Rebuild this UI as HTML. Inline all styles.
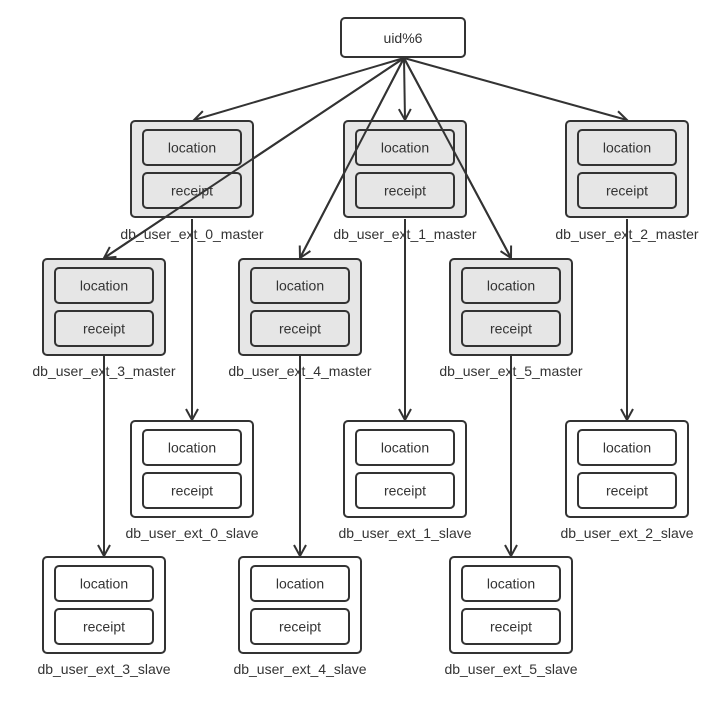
<!DOCTYPE html>
<html><head><meta charset="utf-8"><style>
html,body{margin:0;padding:0;background:#fff;}
svg{display:block;}
text{font-family:"Liberation Sans",sans-serif;font-size:14px;fill:#333;text-anchor:middle;dominant-baseline:central;}
</style></head><body>
<svg width="726" height="705" viewBox="0 0 726 705" xmlns="http://www.w3.org/2000/svg">
<defs>
<marker id="a" markerWidth="14" markerHeight="14" refX="12" refY="7" orient="auto" markerUnits="userSpaceOnUse">
<path d="M1,1 L12,7 L1,13" fill="none" stroke="#333" stroke-width="2"/>
</marker>
<g id="db">
<rect x="1" y="1" width="122" height="96" rx="4" stroke="#333" stroke-width="2"/>
<rect x="13" y="10" width="98" height="35" rx="4" fill="none" stroke="#333" stroke-width="2"/>
<rect x="13" y="53" width="98" height="35" rx="4" fill="none" stroke="#333" stroke-width="2"/>
<text x="62" y="27.5">location</text>
<text x="62" y="70.5">receipt</text>
</g>
</defs>
<rect x="341" y="18" width="124" height="39" rx="4" fill="#fff" stroke="#333" stroke-width="2"/>
<text x="403" y="38">uid%6</text>
<g stroke="#333" stroke-width="2" fill="none" marker-end="url(#a)">
<line x1="404" y1="58" x2="194" y2="120"/>
<line x1="404" y1="58" x2="405" y2="120"/>
<line x1="404" y1="58" x2="627" y2="120"/>
<line x1="404" y1="58" x2="104" y2="258"/>
<line x1="404" y1="58" x2="300" y2="258"/>
<line x1="404" y1="58" x2="511" y2="258"/>
<line x1="192" y1="219" x2="192" y2="420"/>
<line x1="405" y1="219" x2="405" y2="420"/>
<line x1="627" y1="219" x2="627" y2="420"/>
<line x1="104" y1="356" x2="104" y2="556"/>
<line x1="300" y1="356" x2="300" y2="556"/>
<line x1="511" y1="356" x2="511" y2="556"/>
</g>
<g fill="#e6e6e6">
<use href="#db" x="130" y="120"/>
<use href="#db" x="343" y="120"/>
<use href="#db" x="565" y="120"/>
<use href="#db" x="42" y="258"/>
<use href="#db" x="238" y="258"/>
<use href="#db" x="449" y="258"/>
</g>
<g fill="#fff">
<use href="#db" x="130" y="420"/>
<use href="#db" x="343" y="420"/>
<use href="#db" x="565" y="420"/>
<use href="#db" x="42" y="556"/>
<use href="#db" x="238" y="556"/>
<use href="#db" x="449" y="556"/>
</g>
<g stroke="#333" stroke-width="2" fill="none">
<line x1="404" y1="58" x2="104" y2="258"/>
<line x1="404" y1="58" x2="300" y2="258"/>
<line x1="404" y1="58" x2="511" y2="258"/>
</g>
<text x="192" y="234">db_user_ext_0_master</text>
<text x="405" y="234">db_user_ext_1_master</text>
<text x="627" y="234">db_user_ext_2_master</text>
<text x="104" y="371">db_user_ext_3_master</text>
<text x="300" y="371">db_user_ext_4_master</text>
<text x="511" y="371">db_user_ext_5_master</text>
<text x="192" y="533">db_user_ext_0_slave</text>
<text x="405" y="533">db_user_ext_1_slave</text>
<text x="627" y="533">db_user_ext_2_slave</text>
<text x="104" y="669">db_user_ext_3_slave</text>
<text x="300" y="669">db_user_ext_4_slave</text>
<text x="511" y="669">db_user_ext_5_slave</text>
</svg>
</body></html>
